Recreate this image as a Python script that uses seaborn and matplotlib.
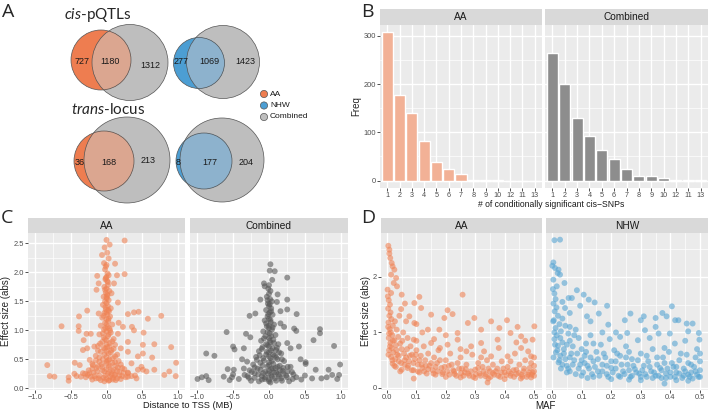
import matplotlib
matplotlib.use('Agg')
import matplotlib.pyplot as plt
from matplotlib.patches import Circle
import numpy as np
import pandas as pd
import seaborn as sns

# ---- data ----
venn_cis_aa = [727, 1180, 1312]
venn_cis_nhw = [277, 1069, 1423]
venn_trans_aa = [36, 168, 213]
venn_trans_nhw = [8, 177, 204]

snp_order = ['1', '2', '3', '4', '5', '6', '7', '8', '9', '10', '12', '11', '13']
freq_aa = [307, 178, 140, 82, 38, 24, 13, 2, 2, 1, 0, 0, 0]
freq_comb = [265, 201, 130, 93, 64, 45, 24, 9, 9, 5, 1, 2, 1]

# distance to TSS (MB) vs effect size, AA
tss_aa = [
    (0.0, 2.56), (0.254, 2.55), (0.044, 2.48), (-0.026, 2.43), (-0.063, 2.30), (0.01, 2.34), (0.03, 2.24),
    (-0.035, 2.16), (0.0, 2.13), (0.12, 2.15), (0.254, 1.97), (-0.13, 1.94), (0.147, 1.95), (-0.11, 1.81),
    (0.105, 1.81), (0.07, 1.64), (-0.14, 1.70), (0.16, 1.48), (-0.27, 1.34), (-0.385, 1.24), (-0.11, 1.29),
    (0.30, 1.28), (0.385, 1.31), (0.45, 1.32), (0.767, 1.25), (0.58, 1.20), (-0.63, 1.07), (-0.39, 1.07),
    (-0.39, 0.99), (0.17, 1.13), (0.23, 1.06), (0.357, 1.06), (0.385, 1.0), (-0.28, 0.94), (-0.22, 0.94),
    (-0.32, 0.83), (0.16, 0.94), (0.30, 0.80), (0.52, 0.96), (0.67, 0.76), (0.906, 0.71), (0.51, 0.75),
    (-0.33, 0.66), (-0.27, 0.69), (-0.17, 0.72), (0.2, 0.69), (0.3, 0.63), (0.51, 0.6), (0.44, 0.55),
    (0.64, 0.53), (-0.445, 0.44), (-0.375, 0.40), (-0.83, 0.40), (-0.235, 0.49), (-0.19, 0.40), (0.35, 0.43),
    (0.49, 0.37), (0.51, 0.32), (0.67, 0.32), (0.976, 0.44), (-0.795, 0.21), (-0.73, 0.20), (-0.53, 0.19),
    (-0.53, 0.13), (-0.42, 0.21), (-0.33, 0.26), (-0.26, 0.23), (0.11, 0.23), (0.30, 0.27), (0.44, 0.32),
    (0.81, 0.23), (0.88, 0.29), (0.97, 0.21), (0.56, 0.29),
    (-0.02, 2.05), (0.015, 1.98), (0.0, 1.92), (-0.01, 2.1), (0.03, 1.95), (-0.015, 1.88), (0.01, 1.85),
    (0.02, 1.78), (-0.03, 1.75), (0.0, 1.72), (0.04, 1.68), (-0.01, 1.65), (0.015, 1.6), (-0.04, 1.58),
    (0.005, 1.55), (0.03, 1.52), (-0.02, 1.5), (0.0, 1.47), (-0.05, 1.44), (0.02, 1.42), (0.06, 1.38),
    (-0.01, 1.36), (0.035, 1.33), (-0.03, 1.3), (0.01, 1.27), (0.05, 1.24), (-0.06, 1.22), (0.0, 1.19),
    (0.025, 1.16), (-0.02, 1.13), (0.08, 1.1), (-0.08, 1.08), (0.015, 1.06), (0.04, 1.03), (-0.035, 1.01),
    (0.0, 0.98), (0.06, 0.96), (-0.1, 0.93), (0.02, 0.9), (-0.04, 0.88), (0.1, 0.85), (0.0, 0.83),
    (-0.06, 0.8), (0.045, 0.78), (0.12, 0.75), (-0.12, 0.73), (0.01, 0.71), (-0.02, 0.68), (0.07, 0.66),
    (-0.08, 0.63), (0.03, 0.6), (0.15, 0.58), (-0.15, 0.56), (0.0, 0.54), (0.09, 0.52), (-0.05, 0.5),
    (0.02, 0.48), (-0.1, 0.46), (0.12, 0.45), (0.0, 0.43), (-0.2, 0.42), (0.2, 0.41), (0.05, 0.39),
    (-0.06, 0.37), (0.16, 0.36), (-0.14, 0.35), (0.0, 0.33), (0.25, 0.33), (-0.25, 0.31), (0.08, 0.3),
    (-0.03, 0.29), (0.18, 0.28), (-0.18, 0.27), (0.3, 0.26), (-0.3, 0.25), (0.02, 0.25), (0.12, 0.23),
    (-0.1, 0.22), (0.22, 0.21), (-0.22, 0.2), (0.05, 0.2), (-0.04, 0.18), (0.15, 0.17), (-0.15, 0.17),
    (0.0, 0.16), (0.09, 0.15), (-0.08, 0.14), (0.27, 0.19), (-0.36, 0.2), (0.35, 0.21), (0.03, 0.13),
    (-0.01, 1.9), (0.02, 1.83), (-0.02, 1.7), (0.01, 1.62), (0.0, 1.57), (-0.015, 1.4), (0.025, 1.35),
    (0.0, 1.31), (-0.04, 1.25), (0.03, 1.2), (0.0, 1.1), (-0.015, 1.04), (0.05, 1.0), (-0.05, 0.95),
    (0.03, 0.93), (-0.02, 0.85), (0.08, 0.81), (-0.09, 0.77), (0.0, 0.76), (0.04, 0.72), (-0.04, 0.7),
    (0.1, 0.68), (-0.12, 0.65), (0.0, 0.64), (0.06, 0.62), (-0.03, 0.58), (0.12, 0.55), (-0.1, 0.53),
    (0.04, 0.5), (-0.15, 0.48), (0.17, 0.47), (0.0, 0.46), (0.08, 0.44), (-0.07, 0.41), (0.13, 0.39),
    (-0.12, 0.38), (0.03, 0.37), (0.22, 0.35), (-0.2, 0.34), (0.1, 0.32), (-0.06, 0.31), (0.15, 0.3),
    (-0.13, 0.29), (0.04, 0.28), (0.24, 0.27), (-0.24, 0.26), (0.07, 0.24), (-0.02, 0.22), (0.18, 0.22),
    (-0.17, 0.21), (0.3, 0.2), (-0.29, 0.19), (0.09, 0.18), (-0.11, 0.17), (0.2, 0.16), (-0.2, 0.15),
    (0.04, 0.14), (0.13, 0.14), (-0.03, 0.12), (0.4, 0.22), (-0.45, 0.25), (0.42, 0.17),
]

# distance to TSS (MB) vs effect size, Combined
tss_comb = [
    (0.02, 2.14), (0.01, 2.03), (0.08, 2.02), (0.254, 1.91), (-0.07, 1.81), (-0.06, 1.76), (0.044, 1.87),
    (0.12, 1.62), (-0.12, 1.53), (0.254, 1.53), (0.11, 1.49), (-0.19, 1.29), (-0.27, 1.25), (0.16, 1.33),
    (0.254, 1.36), (0.385, 1.28), (-0.59, 0.97), (-0.32, 0.94), (-0.26, 0.88), (0.16, 1.12), (0.21, 1.06),
    (0.35, 1.03), (0.38, 0.99), (0.71, 1.02), (0.71, 0.95), (0.62, 0.83), (-0.5, 0.72), (-0.48, 0.67),
    (-0.35, 0.69), (0.254, 0.78), (0.30, 0.69), (0.417, 0.72), (0.906, 0.73), (-0.874, 0.6), (-0.76, 0.56),
    (-0.375, 0.5), (-0.305, 0.46), (0.44, 0.5), (0.51, 0.45), (0.51, 0.42), (-0.575, 0.33), (-0.49, 0.32),
    (-0.35, 0.34), (0.65, 0.32), (0.3, 0.37), (0.83, 0.32), (-0.995, 0.16), (-0.935, 0.19), (-0.874, 0.21),
    (-0.84, 0.14), (-0.63, 0.2), (-0.548, 0.14), (-0.515, 0.19), (0.73, 0.17), (0.804, 0.19), (0.88, 0.23),
    (0.976, 0.23), (0.95, 0.16), (0.99, 0.41),
    (-0.01, 1.72), (0.02, 1.68), (0.0, 1.63), (-0.03, 1.58), (0.015, 1.54), (0.04, 1.5), (-0.015, 1.46),
    (0.0, 1.42), (0.03, 1.38), (-0.04, 1.35), (0.01, 1.31), (0.05, 1.27), (-0.02, 1.24), (0.0, 1.2),
    (-0.06, 1.17), (0.025, 1.14), (0.07, 1.1), (-0.03, 1.07), (0.0, 1.04), (0.04, 1.01), (-0.08, 0.98),
    (0.01, 0.95), (0.09, 0.92), (-0.05, 0.9), (0.0, 0.87), (0.06, 0.84), (-0.11, 0.82), (0.02, 0.79),
    (0.13, 0.76), (-0.02, 0.74), (-0.09, 0.71), (0.05, 0.69), (0.1, 0.66), (-0.14, 0.64), (0.0, 0.62),
    (0.17, 0.6), (-0.04, 0.58), (0.08, 0.56), (-0.18, 0.54), (0.02, 0.52), (0.12, 0.5), (-0.07, 0.48),
    (0.21, 0.47), (0.0, 0.45), (-0.12, 0.44), (0.06, 0.42), (-0.22, 0.41), (0.15, 0.39), (-0.02, 0.38),
    (0.26, 0.37), (0.09, 0.35), (-0.16, 0.34), (0.03, 0.33), (-0.27, 0.31), (0.19, 0.3), (-0.05, 0.29),
    (0.32, 0.28), (0.07, 0.27), (-0.2, 0.26), (-0.01, 0.25), (0.13, 0.24), (-0.34, 0.23), (0.24, 0.22),
    (-0.1, 0.21), (0.04, 0.2), (0.38, 0.19), (-0.28, 0.18), (0.17, 0.17), (-0.06, 0.16), (0.0, 0.15),
    (0.1, 0.13), (-0.14, 0.12), (0.45, 0.15), (-0.42, 0.16), (0.28, 0.12), (0.02, 0.1),
    (0.0, 1.78), (-0.02, 1.52), (0.01, 1.45), (0.03, 1.33), (-0.01, 1.28), (0.02, 1.18), (-0.04, 1.12),
    (0.0, 1.08), (0.05, 1.05), (-0.02, 0.97), (0.03, 0.9), (-0.07, 0.86), (0.01, 0.82), (0.07, 0.78),
    (-0.04, 0.76), (0.0, 0.72), (0.11, 0.7), (-0.1, 0.68), (0.03, 0.65), (-0.03, 0.63), (0.14, 0.62),
    (0.06, 0.58), (-0.13, 0.57), (0.0, 0.55), (0.1, 0.53), (-0.08, 0.52), (0.18, 0.5), (-0.17, 0.49),
    (0.04, 0.47), (0.0, 0.4), (-0.09, 0.39), (0.12, 0.37), (0.2, 0.35), (-0.2, 0.36), (0.05, 0.34),
    (-0.12, 0.32), (0.15, 0.31), (0.0, 0.3), (-0.24, 0.28), (0.26, 0.29), (0.1, 0.27), (-0.08, 0.26),
    (0.2, 0.25), (-0.15, 0.24), (0.34, 0.24), (0.03, 0.23), (-0.3, 0.21), (0.14, 0.21), (-0.05, 0.19),
    (0.25, 0.19), (-0.2, 0.18), (0.08, 0.17), (0.33, 0.16), (-0.1, 0.15), (0.0, 0.12), (0.18, 0.13),
    (-0.25, 0.13), (0.5, 0.22), (-0.5, 0.24), (0.6, 0.17),
]

# MAF vs effect size, AA
maf_aa = [
    (0.0045, 2.56), (0.008, 2.49), (0.008, 2.42), (0.011, 2.34), (0.016, 2.25), (0.019, 2.19), (0.025, 2.13),
    (0.014, 2.04), (0.031, 1.98), (0.023, 1.89), (0.034, 1.83), (0.002, 1.77), (0.014, 1.71), (0.05, 1.68),
    (0.11, 1.64), (0.257, 1.68), (0.061, 1.52), (0.093, 1.53), (0.116, 1.44), (0.048, 1.42), (0.206, 1.40),
    (0.223, 1.33), (0.15, 1.32), (0.297, 1.26), (0.195, 1.26), (0.275, 1.17), (0.354, 1.2), (0.408, 1.22),
    (0.501, 1.11), (0.32, 1.05), (0.382, 1.08), (0.444, 1.1), (0.24, 0.99), (0.178, 1.05), (0.093, 1.17),
    (0.076, 1.29), (0.139, 1.05), (0.42, 0.99), (0.456, 0.93), (0.495, 0.87), (0.376, 0.87), (0.32, 0.81),
    (0.286, 0.75), (0.24, 0.87), (0.206, 0.78), (0.15, 0.81), (0.091, 0.87), (0.456, 0.72), (0.49, 0.57),
    (0.41, 0.57), (0.354, 0.57),
    (0.003, 1.65), (0.006, 1.58), (0.01, 1.5), (0.004, 1.43), (0.012, 1.36), (0.008, 1.3), (0.015, 1.24),
    (0.005, 1.18), (0.02, 1.12), (0.009, 1.06), (0.013, 1.0), (0.018, 0.95), (0.006, 0.9), (0.025, 0.86),
    (0.011, 0.81), (0.03, 0.77), (0.016, 0.72), (0.007, 0.68), (0.022, 0.64), (0.035, 0.6), (0.014, 0.56),
    (0.028, 0.52), (0.04, 0.48), (0.019, 0.44), (0.027, 1.2), (0.033, 1.05), (0.038, 0.92), (0.045, 0.8),
    (0.05, 0.7), (0.058, 0.62), (0.042, 1.3), (0.065, 0.55), (0.07, 0.9), (0.055, 1.0), (0.08, 0.75),
    (0.075, 0.48), (0.06, 0.42), (0.085, 0.6), (0.095, 0.52), (0.1, 0.68), (0.105, 0.42), (0.115, 0.58),
    (0.12, 0.36), (0.125, 0.75), (0.13, 0.5), (0.14, 0.62), (0.145, 0.4), (0.155, 0.32), (0.16, 0.55),
    (0.17, 0.45), (0.175, 0.68), (0.185, 0.36), (0.19, 0.28), (0.2, 0.5), (0.21, 0.4), (0.215, 0.62),
    (0.225, 0.32), (0.23, 0.25), (0.24, 0.45), (0.25, 0.55), (0.255, 0.35), (0.265, 0.28), (0.27, 0.42),
    (0.28, 0.22), (0.29, 0.6), (0.3, 0.33), (0.31, 0.45), (0.315, 0.26), (0.325, 0.38), (0.335, 0.21),
    (0.34, 0.5), (0.35, 0.3), (0.36, 0.42), (0.365, 0.24), (0.375, 0.35), (0.385, 0.2), (0.39, 0.48),
    (0.4, 0.28), (0.41, 0.38), (0.42, 0.22), (0.43, 0.32), (0.435, 0.62), (0.44, 0.25), (0.45, 0.42),
    (0.46, 0.2), (0.465, 0.3), (0.47, 0.5), (0.48, 0.24), (0.485, 0.36), (0.49, 0.19), (0.495, 0.28),
    (0.5, 0.4), (0.5, 0.22), (0.03, 0.38), (0.05, 0.33), (0.045, 0.3), (0.09, 0.32), (0.11, 0.28),
    (0.135, 0.26), (0.165, 0.24), (0.2, 0.2), (0.25, 0.19), (0.3, 0.18), (0.345, 0.17), (0.4, 0.16),
    (0.455, 0.17), (0.091, 0.17), (0.342, 0.1), (0.07, 0.36), (0.16, 0.88), (0.2, 0.95), (0.27, 0.66),
    (0.33, 0.66), (0.38, 0.72), (0.44, 0.82), (0.48, 0.66), (0.12, 1.0), (0.1, 1.15), (0.065, 1.2),
    (0.004, 1.1), (0.007, 0.98), (0.01, 0.75), (0.005, 0.6), (0.02, 0.85), (0.018, 0.5), (0.025, 0.4),
    (0.032, 0.68), (0.04, 0.58), (0.048, 0.45), (0.052, 0.85), (0.06, 0.5), (0.068, 0.7), (0.072, 0.4),
    (0.078, 0.58), (0.085, 0.32), (0.09, 0.45), (0.098, 0.6), (0.105, 0.3), (0.11, 0.5), (0.118, 0.42),
    (0.126, 0.3), (0.132, 0.4), (0.14, 0.34), (0.15, 0.45), (0.158, 0.26), (0.165, 0.38), (0.172, 0.3),
    (0.18, 0.5), (0.188, 0.25), (0.196, 0.38), (0.205, 0.3), (0.212, 0.24), (0.22, 0.42), (0.228, 0.3),
    (0.236, 0.22), (0.245, 0.35), (0.252, 0.27), (0.26, 0.22), (0.268, 0.34), (0.276, 0.26), (0.285, 0.3),
    (0.293, 0.2), (0.302, 0.25), (0.31, 0.36), (0.318, 0.22), (0.328, 0.3), (0.336, 0.25), (0.345, 0.35),
    (0.352, 0.2), (0.36, 0.27), (0.37, 0.3), (0.378, 0.22), (0.388, 0.28), (0.396, 0.35), (0.405, 0.23),
    (0.414, 0.3), (0.422, 0.26), (0.432, 0.2), (0.44, 0.33), (0.448, 0.27), (0.458, 0.24), (0.466, 0.35),
    (0.475, 0.2), (0.483, 0.28), (0.492, 0.24), (0.5, 0.3), (0.5, 0.55), (0.49, 0.45), (0.25, 0.7),
    (0.18, 0.72), (0.32, 0.55), (0.42, 0.48), (0.47, 0.85), (0.1, 0.85),
]

# MAF vs effect size, NHW
maf_nhw = [
    (0.008, 2.66), (0.027, 2.67), (0.0045, 2.26), (0.001, 2.2), (0.01, 2.16), (0.022, 2.13), (0.019, 2.07),
    (0.027, 2.04), (0.042, 1.89), (0.0045, 1.95), (0.016, 1.83), (0.056, 1.62), (0.084, 1.76), (0.107, 1.68),
    (0.124, 1.59), (0.144, 1.54), (0.067, 1.62), (0.044, 1.44), (0.095, 1.48), (0.186, 1.48), (0.158, 1.34),
    (0.118, 1.29), (0.265, 1.34), (0.246, 1.22), (0.31, 1.29), (0.373, 1.35), (0.405, 1.47), (0.387, 1.29),
    (0.416, 1.22), (0.427, 1.22), (0.455, 1.16), (0.475, 1.16), (0.35, 1.26), (0.3, 1.22), (0.19, 1.14),
    (0.216, 1.0), (0.254, 0.99), (0.314, 1.04), (0.35, 1.1), (0.398, 0.98), (0.46, 1.02), (0.498, 0.87),
    (0.496, 0.99),
    (0.003, 1.78), (0.008, 1.7), (0.012, 1.6), (0.005, 1.52), (0.015, 1.45), (0.009, 1.38), (0.02, 1.3),
    (0.006, 1.22), (0.025, 1.15), (0.012, 1.08), (0.03, 1.02), (0.016, 0.95), (0.008, 0.88), (0.035, 0.82),
    (0.02, 0.76), (0.04, 0.7), (0.013, 0.64), (0.028, 0.58), (0.045, 0.52), (0.022, 0.46), (0.05, 0.4),
    (0.035, 1.25), (0.045, 1.12), (0.055, 0.98), (0.06, 0.85), (0.07, 0.75), (0.065, 0.62), (0.08, 1.05),
    (0.075, 0.5), (0.09, 0.9), (0.1, 0.7), (0.095, 0.42), (0.11, 0.58), (0.115, 0.8), (0.125, 0.35),
    (0.13, 0.95), (0.14, 0.48), (0.15, 0.65), (0.155, 0.3), (0.165, 0.78), (0.17, 0.42), (0.18, 0.55),
    (0.185, 0.25), (0.195, 0.88), (0.2, 0.36), (0.21, 0.68), (0.215, 0.48), (0.225, 0.22), (0.23, 0.58),
    (0.24, 0.3), (0.25, 0.75), (0.255, 0.42), (0.265, 0.2), (0.27, 0.52), (0.28, 0.34), (0.29, 0.86),
    (0.295, 0.26), (0.3, 0.62), (0.31, 0.4), (0.32, 0.2), (0.325, 0.48), (0.335, 0.3), (0.34, 0.7),
    (0.35, 0.22), (0.355, 0.55), (0.365, 0.36), (0.37, 0.18), (0.38, 0.45), (0.385, 0.26), (0.395, 0.65),
    (0.4, 0.2), (0.41, 0.38), (0.415, 0.8), (0.42, 0.28), (0.43, 0.5), (0.44, 0.18), (0.445, 0.35),
    (0.455, 0.6), (0.46, 0.24), (0.47, 0.42), (0.475, 0.17), (0.485, 0.3), (0.49, 0.7), (0.495, 0.2),
    (0.5, 0.48), (0.5, 0.32), (0.06, 0.3), (0.08, 0.25), (0.1, 0.22), (0.12, 0.18), (0.14, 0.2),
    (0.2, 0.16), (0.26, 0.15), (0.3, 0.14), (0.38, 0.08), (0.42, 0.14), (0.46, 0.13), (0.03, 0.35),
    (0.05, 0.28), (0.11, 0.45), (0.17, 1.0), (0.23, 0.92), (0.33, 0.9), (0.45, 0.85), (0.06, 1.35),
    (0.035, 1.55), (0.13, 1.2), (0.36, 0.98),
    (0.004, 1.2), (0.008, 1.0), (0.01, 0.78), (0.005, 0.55), (0.018, 0.68), (0.025, 0.5), (0.028, 0.9),
    (0.035, 0.42), (0.04, 0.62), (0.05, 0.78), (0.055, 0.35), (0.06, 0.55), (0.07, 0.42), (0.075, 0.95),
    (0.085, 0.62), (0.09, 0.35), (0.1, 0.5), (0.105, 0.28), (0.115, 0.65), (0.12, 0.4), (0.13, 0.55),
    (0.135, 0.25), (0.145, 0.38), (0.155, 0.52), (0.16, 0.22), (0.17, 0.3), (0.175, 0.62), (0.185, 0.4),
    (0.19, 0.2), (0.2, 0.48), (0.205, 0.28), (0.215, 0.35), (0.22, 0.62), (0.23, 0.2), (0.235, 0.42),
    (0.245, 0.25), (0.25, 0.55), (0.26, 0.32), (0.27, 0.22), (0.275, 0.4), (0.285, 0.28), (0.29, 0.5),
    (0.3, 0.2), (0.305, 0.32), (0.315, 0.25), (0.32, 0.58), (0.33, 0.38), (0.34, 0.18), (0.345, 0.28),
    (0.355, 0.42), (0.36, 0.22), (0.37, 0.32), (0.375, 0.55), (0.385, 0.18), (0.39, 0.35), (0.4, 0.28),
    (0.405, 0.45), (0.415, 0.2), (0.42, 0.38), (0.43, 0.26), (0.435, 0.62), (0.445, 0.22), (0.45, 0.3),
    (0.46, 0.45), (0.465, 0.2), (0.47, 0.28), (0.48, 0.38), (0.485, 0.55), (0.49, 0.24), (0.5, 0.2),
    (0.5, 0.62), (0.38, 0.72), (0.26, 0.65), (0.14, 0.8), (0.06, 1.1),
]

# ---- style ----
sns.set_theme(style='darkgrid', rc={
    'axes.facecolor': '#EBEBEB',
    'grid.color': 'white',
    'axes.edgecolor': 'none',
})
plt.rcParams['font.family'] = ['Liberation Sans', 'DejaVu Sans']
plt.rcParams['mathtext.fontset'] = 'custom'
plt.rcParams['mathtext.it'] = 'Lato:italic'
plt.rcParams['mathtext.rm'] = 'Lato'

C_ORANGE = '#EE7D50'
C_ORANGE_OV = '#DBA690'
C_BLUE = '#4C9ED3'
C_BLUE_OV = '#8DB2CD'
C_GRAY = '#BEBEBE'
TICK_FS = 5.4

W, H = 709, 413
fig = plt.figure(figsize=(W / 100, H / 100), dpi=100)


def px(x0, y0, x1, y1):
    return [x0 / W, 1 - y1 / H, (x1 - x0) / W, (y1 - y0) / H]


def facet(x0, y0, x1, y1, title, strip_h=15):
    st = fig.add_axes(px(x0, y0 - strip_h, x1, y0))
    st.set_facecolor('#D9D9D9')
    st.set_xticks([])
    st.set_yticks([])
    st.grid(False)
    for s in st.spines.values():
        s.set_visible(False)
    st.text(0.5, 0.47, title, ha='center', va='center', fontsize=7.3, color='#1A1A1A',
            transform=st.transAxes)
    ax = fig.add_axes(px(x0, y0, x1, y1))
    ax.set_axisbelow(True)
    ax.tick_params(which='major', length=2, width=0.6, color='#333333', labelcolor='#4D4D4D',
                   labelsize=TICK_FS, pad=1, bottom=True, left=True)
    ax.tick_params(which='minor', length=0)
    ax.grid(which='major', color='white', lw=1.0)
    ax.grid(which='minor', color='white', lw=0.5)
    for s in ax.spines.values():
        s.set_visible(False)
    return ax


# ---- A: Venn diagrams ----
av = fig.add_axes(px(0, 0, 360, 208))
av.set_xlim(0, 360)
av.set_ylim(208, 0)
av.axis('off')


def venn(c1, r1, c2, r2, col, col_ov, counts, pos):
    big = Circle(c2, r2, fc=C_GRAY, ec='none')
    av.add_patch(big)
    av.add_patch(Circle(c1, r1, fc=col, ec='none'))
    ov = Circle(c1, r1, fc=col_ov, ec='none')
    av.add_patch(ov)
    ov.set_clip_path(big)
    av.add_patch(Circle(c2, r2, fc='none', ec='#555555', lw=0.5))
    av.add_patch(Circle(c1, r1, fc='none', ec='#555555', lw=0.5))
    for n, (x, y) in zip(counts, pos):
        av.text(x, y, str(n), ha='center', va='center', fontsize=6.5, color='#1A1A1A')


venn((101, 60), 30, (130, 62.5), 38, C_ORANGE, C_ORANGE_OV, venn_cis_aa,
     [(82, 62), (110, 62), (150, 66)])
venn((199, 63), 25.5, (223, 62), 36.5, C_BLUE, C_BLUE_OV, venn_cis_nhw,
     [(181, 62), (209, 62), (245, 62)])
venn((104, 161), 30, (127, 160), 43, C_ORANGE, C_ORANGE_OV, venn_trans_aa,
     [(80, 162), (109, 162), (148, 160)])
venn((204, 161), 28, (222, 160), 42, C_BLUE, C_BLUE_OV, venn_trans_nhw,
     [(178, 162), (210, 162), (246, 162)])

av.text(64, 19, r'$\mathit{cis}$-pQTLs', fontsize=11, family='Lato', va='baseline')
av.text(71, 114, r'$\mathit{trans}$-locus', fontsize=11, family='Lato', va='baseline')

for i, (lab, col) in enumerate([('AA', C_ORANGE), ('NHW', C_BLUE), ('Combined', C_GRAY)]):
    y = 94 + i * 11.5
    av.add_patch(Circle((264, y), 3.6, fc=col, ec='#555555', lw=0.5))
    av.text(270, y, lab, fontsize=6, va='center', color='#1A1A1A')

# ---- B: histograms ----
hist = pd.DataFrame({'snps': snp_order * 2, 'freq': freq_aa + freq_comb,
                     'group': ['AA'] * 13 + ['Combined'] * 13})
for (x0, x1), grp, col in [((380, 542), 'AA', '#F2B196'), ((545, 708), 'Combined', '#8D8D8D')]:
    ax = facet(x0, 25, x1, 188, grp, strip_h=16)
    sns.barplot(data=hist[hist['group'] == grp], x='snps', y='freq', order=snp_order, color=col,
                saturation=1, width=0.9, ax=ax)
    ax.set_xlim(-0.6, 12.6)
    ax.set_ylim(-15.4, 322.4)
    ax.set_yticks([0, 100, 200, 300])
    ax.set_yticks([50, 150, 250], minor=True)
    ax.xaxis.grid(True, which='major', color='white', lw=1.0)
    ax.tick_params(axis='x', labelsize=5.2, pad=0.8)
    ax.set_xlabel('')
    ax.set_ylabel('')
    if grp == 'AA':
        ax.set_ylabel('Freq', fontsize=7)
        ax.yaxis.set_label_coords(-0.115, 0.5)
    else:
        ax.tick_params(axis='y', left=False, labelleft=False)
fig.text(551 / W, 1 - 204 / H, '# of conditionally significant cis\u2212SNPs', ha='center', va='center',
         fontsize=6.2, color='#1A1A1A')

# ---- C: distance to TSS ----
for (x0, x1), grp, pts, col in [((28, 185), 'AA', tss_aa, '#EF8355'),
                                 ((190, 348), 'Combined', tss_comb, '#575757')]:
    ax = facet(x0, 233, x1, 390, grp)
    arr = np.array(pts)
    sns.scatterplot(x=arr[:, 0], y=arr[:, 1], color=col, alpha=0.6, s=18, edgecolor='none', ax=ax)
    ax.set_xlim(-1.1, 1.1)
    ax.set_ylim(-0.03, 2.68)
    ax.set_xticks([-1, -0.5, 0, 0.5, 1])
    ax.set_xticklabels(['\u22121.0', '\u22120.5', '0.0', '0.5', '1.0'])
    ax.set_xticks([-0.75, -0.25, 0.25, 0.75], minor=True)
    ax.set_yticks([0, 0.5, 1, 1.5, 2, 2.5])
    ax.set_yticklabels(['0.0', '0.5', '1.0', '1.5', '2.0', '2.5'])
    ax.set_yticks([0.25, 0.75, 1.25, 1.75, 2.25], minor=True)
    if grp == 'AA':
        ax.set_ylabel('Effect size (abs)', fontsize=7)
        ax.yaxis.set_label_coords(-0.11, 0.5)
    else:
        ax.tick_params(axis='y', left=False, labelleft=False)
fig.text(188 / W, 1 - 406 / H, 'Distance to TSS (MB)', ha='center', va='center', fontsize=6.7,
         color='#1A1A1A')

# ---- D: MAF ----
for (x0, x1), grp, pts, col in [((381, 542), 'AA', maf_aa, '#EF8355'),
                                 ((546, 708), 'NHW', maf_nhw, '#58A5D3')]:
    ax = facet(x0, 233, x1, 390, grp)
    arr = np.array(pts)
    sns.scatterplot(x=arr[:, 0], y=arr[:, 1], color=col, alpha=0.6, s=18, edgecolor='none', ax=ax)
    ax.set_xlim(-0.0204, 0.527)
    ax.set_ylim(-0.036, 2.79)
    ax.set_xticks([0, 0.1, 0.2, 0.3, 0.4, 0.5])
    ax.set_xticklabels(['0.0', '0.1', '0.2', '0.3', '0.4', '0.5'])
    ax.set_xticks([0.05, 0.15, 0.25, 0.35, 0.45], minor=True)
    ax.set_yticks([0, 1, 2])
    ax.set_yticklabels(['0', '1', '2'])
    ax.set_yticks([0.5, 1.5, 2.5], minor=True)
    if grp == 'AA':
        ax.set_ylabel('Effect size (abs)', fontsize=7)
        ax.yaxis.set_label_coords(-0.062, 0.5)
    else:
        ax.tick_params(axis='y', left=False, labelleft=False)
fig.text(545 / W, 1 - 406 / H, 'MAF', ha='center', va='center', fontsize=7, color='#1A1A1A')

# ---- panel letters ----
for lab, x, y in [('A', 2, 3), ('B', 361, 3), ('C', 1, 209), ('D', 361, 209)]:
    fig.text(x / W, 1 - y / H, lab, ha='left', va='top', fontsize=14, family='Open Sans')

fig.savefig('out.png', dpi=100)
